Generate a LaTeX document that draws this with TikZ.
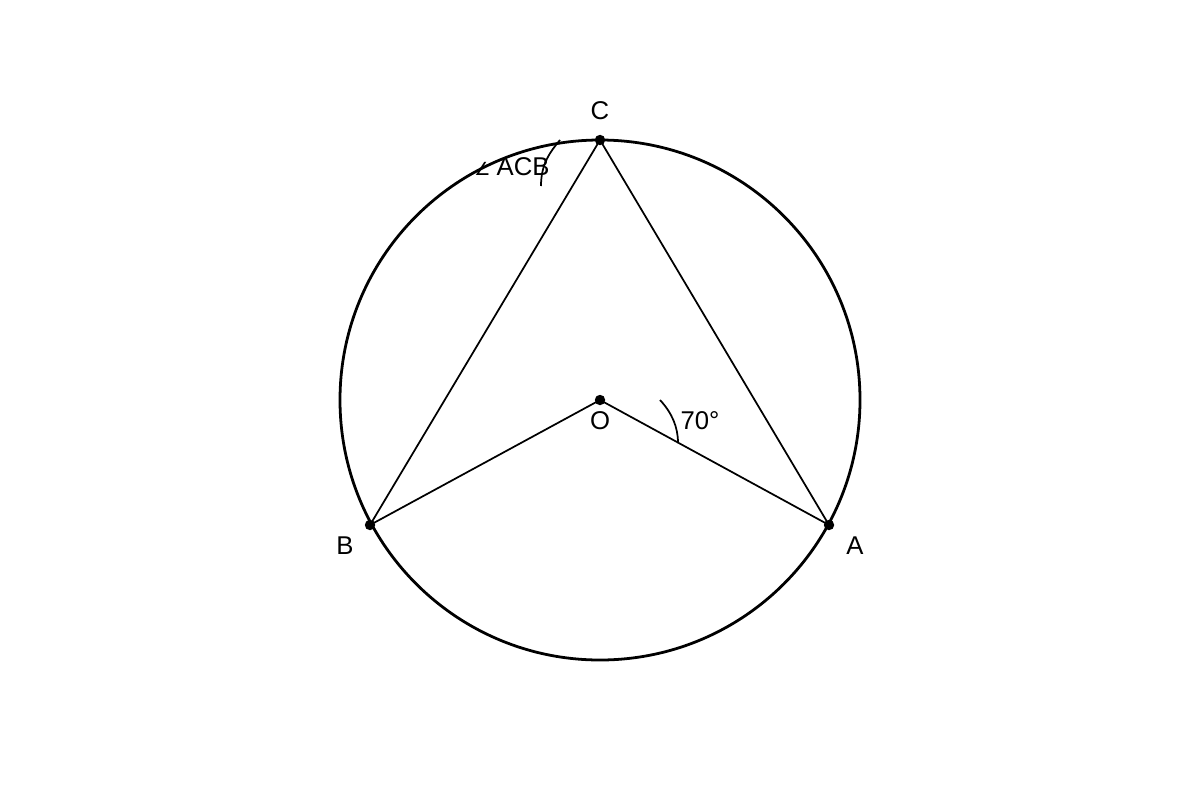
\documentclass[tikz,border=0pt]{standalone}
\usepackage{fontspec}
\setmainfont{Liberation Sans}
\newfontfamily\djv{DejaVu Sans}
\begin{document}
\begin{tikzpicture}[x=0.72pt,y=-0.72pt,
  lbl/.style={inner sep=0pt,font=\fontsize{18.5}{22}\selectfont},
  pt/.style={circle,fill=black,inner sep=0pt,minimum size=7.5pt},
  seg/.style={line width=1.25pt},
  angmark/.style={line width=1.25pt}]
\useasboundingbox (0,0) rectangle (1200,800);
\draw[line width=2pt] (600,400) circle[radius=260];
\coordinate (O) at (600,400);
\coordinate (C) at (600,140);
\coordinate (B) at (370,525);
\coordinate (A) at (829,525);
\draw[seg] (B) -- (C) -- (A);
\draw[seg] (B) -- (O) -- (A);
\node[pt] (Od) at (O) {};
\node[pt] (Cd) at (C) {};
\node[pt] (Bd) at (B) {};
\node[pt] (Ad) at (A) {};
\node[lbl] (Cl) at (600,111) {C};
\node[lbl] (Ol) at (600,421) {O};
\node[lbl] (Bl) at (345,546) {B};
\node[lbl] (Al) at (855,546) {A};
\node[lbl] (ang) at (700,421) {70°};
\node[lbl,anchor=base west] (acb) at (474,175) {{\djv\fontsize{13}{16}\selectfont ∠}\hspace{4.5pt}ACB};
\coordinate (m1) at (660,400);
\coordinate (m2) at (678,443);
\draw[angmark] (m1) .. controls (672,413) and (678,427) .. (m2);
\coordinate (c1) at (560,140);
\coordinate (c2) at (541,186);
\draw[angmark] (c1) .. controls (550,152) and (541,164) .. (c2);
\end{tikzpicture}
\end{document}
